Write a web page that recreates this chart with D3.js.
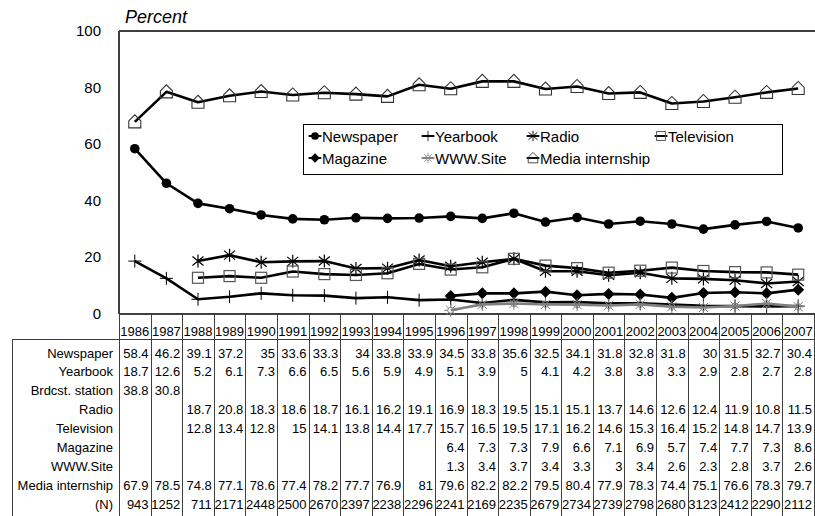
<!DOCTYPE html>
<html>
<head>
<meta charset="utf-8">
<script src="https://cdn.jsdelivr.net/npm/d3@7"></script>
<style>
  body { margin: 0; background: #fff; }
  text { font-family: "Liberation Sans", Arial, sans-serif; }
</style>
</head>
<body>
<svg id="chart"></svg>
<script>
// years along the category axis
const years = ["1986","1987","1988","1989","1990","1991","1992","1993","1994","1995","1996",
               "1997","1998","1999","2000","2001","2002","2003","2004","2005","2006","2007"];

// series values (null = no data that year)
const newspaper = [58.4,46.2,39.1,37.2,35,33.6,33.3,34,33.8,33.9,34.5,33.8,35.6,32.5,34.1,31.8,32.8,31.8,30,31.5,32.7,30.4];
const yearbook = [18.7,12.6,5.2,6.1,7.3,6.6,6.5,5.6,5.9,4.9,5.1,3.9,5,4.1,4.2,3.8,3.8,3.3,2.9,2.8,2.7,2.8];
const brdcstStation = [38.8,30.8,null,null,null,null,null,null,null,null,null,null,null,null,null,null,null,null,null,null,null,null];
const radio = [null,null,18.7,20.8,18.3,18.6,18.7,16.1,16.2,19.1,16.9,18.3,19.5,15.1,15.1,13.7,14.6,12.6,12.4,11.9,10.8,11.5];
const television = [null,null,12.8,13.4,12.8,15,14.1,13.8,14.4,17.7,15.7,16.5,19.5,17.1,16.2,14.6,15.3,16.4,15.2,14.8,14.7,13.9];
const magazine = [null,null,null,null,null,null,null,null,null,null,6.4,7.3,7.3,7.9,6.6,7.1,6.9,5.7,7.4,7.7,7.3,8.6];
const wwwSite = [null,null,null,null,null,null,null,null,null,null,1.3,3.4,3.7,3.4,3.3,3,3.4,2.6,2.3,2.8,3.7,2.6];
const mediaInternship = [67.9,78.5,74.8,77.1,78.6,77.4,78.2,77.7,76.9,81,79.6,82.2,82.2,79.5,80.4,77.9,78.3,74.4,75.1,76.6,78.3,79.7];
const sampleN = [943,1252,711,2171,2448,2500,2670,2397,2238,2296,2241,2169,2235,2679,2734,2739,2798,2680,3123,2412,2290,2112];

// y axis ticks
const yTicks = [0, 20, 40, 60, 80, 100];

// plotted series (broadcast station is only in the table)
const series = [
  { name: "Newspaper", values: newspaper, marker: "circle", color: "#000" },
  { name: "Yearbook", values: yearbook, marker: "plus", color: "#000" },
  { name: "Radio", values: radio, marker: "star", color: "#000" },
  { name: "Television", values: television, marker: "square", color: "#000" },
  { name: "Magazine", values: magazine, marker: "diamond", color: "#000" },
  { name: "WWW.Site", values: wwwSite, marker: "sun", color: "#808080" },
  { name: "Media internship", values: mediaInternship, marker: "house", color: "#000" }
];

// legend layout: two rows of four / three entries
const legendOrder = ["Newspaper", "Yearbook", "Radio", "Television", "Magazine", "WWW.Site", "Media internship"];

// table rows
const tableRows = [
  { label: "Newspaper", values: newspaper },
  { label: "Yearbook", values: yearbook },
  { label: "Brdcst. station", values: brdcstStation },
  { label: "Radio", values: radio },
  { label: "Television", values: television },
  { label: "Magazine", values: magazine },
  { label: "WWW.Site", values: wwwSite },
  { label: "Media internship", values: mediaInternship },
  { label: "(N)", values: sampleN }
];

const width = 815, height = 516;
const plotLeft = 119, plotRight = 814, plotTop = 31, plotBottom = 314;

const svg = d3.select("#chart").attr("width", width).attr("height", height);

const x = d3.scaleBand().domain(years).range([plotLeft, plotRight]);
const y = d3.scaleLinear().domain([0, 100]).range([plotBottom, plotTop]);
const cx = (yr) => x(yr) + x.bandwidth() / 2;

// draw one marker of the given type centred at 0,0
function drawMarker(g, type, color) {
  if (type === "circle") {
    g.append("circle").attr("r", 4.8).attr("fill", "#000");
  } else if (type === "diamond") {
    g.append("path").attr("d", "M0,-6L6,0L0,6L-6,0Z").attr("fill", "#000");
  } else if (type === "plus") {
    g.append("path").attr("d", "M-6.5,0H6.5M0,-6.5V6.5").attr("stroke", "#000").attr("stroke-width", 1).attr("fill", "none");
  } else if (type === "star") {
    g.append("path").attr("d", "M0,-6.5V6.5M-5.5,-4.5L5.5,4.5M-5.5,4.5L5.5,-4.5")
      .attr("stroke", "#000").attr("stroke-width", 1.2).attr("fill", "none");
  } else if (type === "square") {
    g.append("rect").attr("x", -5.5).attr("y", -5.5).attr("width", 11).attr("height", 11)
      .attr("fill", "none").attr("stroke", "#555").attr("stroke-width", 1.2);
  } else if (type === "sun") {
    g.append("circle").attr("r", 3).attr("fill", "none").attr("stroke", color).attr("stroke-width", 1);
    let d = "";
    for (let k = 0; k < 8; k++) {
      const a = k * Math.PI / 4;
      d += "M" + (3 * Math.cos(a)) + "," + (3 * Math.sin(a)) + "L" + (6.5 * Math.cos(a)) + "," + (6.5 * Math.sin(a));
    }
    g.append("path").attr("d", d).attr("stroke", color).attr("stroke-width", 1).attr("fill", "none");
  } else if (type === "house") {
    g.append("path").attr("d", "M-6,-1L0,-7L6,-1V6H-6Z")
      .attr("fill", "none").attr("stroke", "#333").attr("stroke-width", 1.1);
  }
}

// "Percent" title
svg.append("text").attr("x", 125).attr("y", 23)
  .style("font-size", "18px").style("font-style", "italic").text("Percent");

// y tick labels
svg.append("g").selectAll("text").data(yTicks).enter().append("text")
  .attr("x", 101).attr("y", (d) => y(d) + 5)
  .attr("text-anchor", "end").style("font-size", "15px")
  .text((d) => d);

// plot frame: top, left, bottom
const frame = svg.append("g").attr("stroke", "#404040").attr("stroke-width", 2);
frame.append("line").attr("x1", plotLeft).attr("x2", width).attr("y1", plotTop).attr("y2", plotTop);
frame.append("line").attr("x1", plotLeft).attr("x2", plotLeft).attr("y1", plotTop).attr("y2", plotBottom);
frame.append("line").attr("x1", plotLeft).attr("x2", width).attr("y1", plotBottom).attr("y2", plotBottom);

// lines and markers per series
const line = d3.line()
  .defined((d) => d.v != null)
  .x((d) => cx(d.yr))
  .y((d) => y(d.v));

series.forEach((s) => {
  const pts = years.map((yr, i) => ({ yr: yr, v: s.values[i] }));
  svg.append("path").datum(pts)
    .attr("d", line).attr("fill", "none")
    .attr("stroke", s.color).attr("stroke-width", 2.6).attr("stroke-linejoin", "round");
  pts.filter((p) => p.v != null).forEach((p) => {
    const g = svg.append("g").attr("transform", "translate(" + cx(p.yr) + "," + y(p.v) + ")");
    drawMarker(g, s.marker, s.color);
  });
});

// legend
const legend = svg.append("g");
legend.append("rect").attr("x", 303.5).attr("y", 124.5).attr("width", 479).attr("height", 50)
  .attr("fill", "#fff").attr("stroke", "#000").attr("stroke-width", 1);
const legendCols = [315, 428, 533, 661];
const legendRows = [136, 158];
legendOrder.forEach((name, i) => {
  const s = series.find((d) => d.name === name);
  const lx = legendCols[i % 4], ly = legendRows[Math.floor(i / 4)];
  const g = legend.append("g").attr("transform", "translate(" + lx + "," + ly + ") scale(0.8)");
  g.append("line").attr("x1", -8).attr("x2", 8).attr("stroke", s.color).attr("stroke-width", 2.4);
  drawMarker(g, s.marker, s.color);
  legend.append("text").attr("x", lx + 7).attr("y", ly + 5.5)
    .style("font-size", "15px").text(name);
});

// data table below the axis
const rowStart = 353, rowStep = 18.9;
const table = svg.append("g");
const tableLines = table.append("g").attr("stroke", "#404040").attr("stroke-width", 1);
tableLines.append("line").attr("x1", 12).attr("x2", width).attr("y1", 339.5).attr("y2", 339.5);
tableLines.append("line").attr("x1", 12.5).attr("x2", 12.5).attr("y1", 339).attr("y2", height);
tableLines.selectAll(".sep").data(years.concat(["end"])).enter().append("line")
  .attr("x1", (d, i) => Math.round(plotLeft + i * x.bandwidth()) + 0.5)
  .attr("x2", (d, i) => Math.round(plotLeft + i * x.bandwidth()) + 0.5)
  .attr("y1", plotBottom).attr("y2", height);

// year header
table.selectAll(".year").data(years).enter().append("text")
  .attr("x", (d) => cx(d)).attr("y", 336)
  .attr("text-anchor", "middle").style("font-size", "13px").text((d) => d);

tableRows.forEach((r, ri) => {
  const ry = rowStart + ri * rowStep + 4.5;
  table.append("text").attr("x", 113).attr("y", ry)
    .attr("text-anchor", "end").style("font-size", "13px").text(r.label);
  years.forEach((yr, i) => {
    if (r.values[i] == null) return;
    table.append("text").attr("x", x(yr) + x.bandwidth() - 2).attr("y", ry)
      .attr("text-anchor", "end").style("font-size", "13px").text(r.values[i]);
  });
});
</script>
</body>
</html>
